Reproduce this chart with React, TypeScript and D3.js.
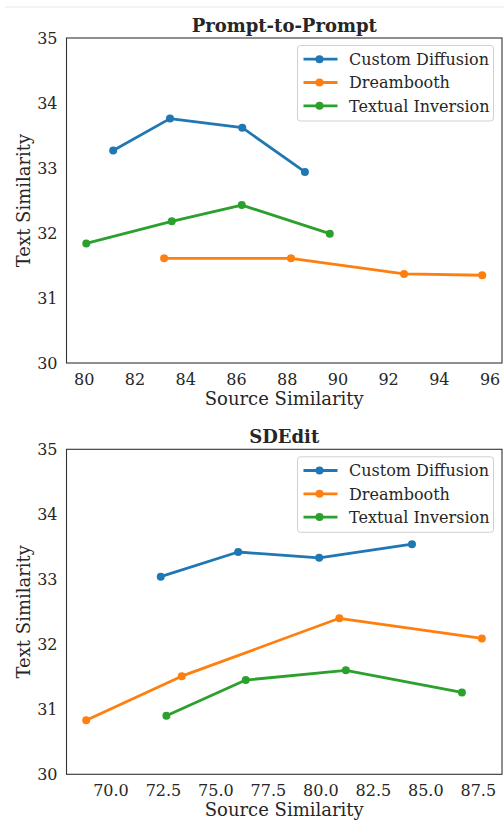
import React from "react";
import * as d3 from "d3";

const seriesNames = ["Custom Diffusion", "Dreambooth", "Textual Inversion"];
const colors = ["#1f77b4", "#ff7f0e", "#2ca02c"];

// Prompt-to-Prompt
const p2pCustomX = [81.14, 83.38, 86.23, 88.7];
const p2pCustomY = [33.27, 33.76, 33.62, 32.94];
const p2pDreamX = [83.15, 88.15, 92.61, 95.69];
const p2pDreamY = [31.61, 31.61, 31.37, 31.35];
const p2pTextualX = [80.08, 83.45, 86.21, 89.68];
const p2pTextualY = [31.84, 32.18, 32.43, 31.99];
const p2pXTicks = [80, 82, 84, 86, 88, 90, 92, 94, 96];

// SDEdit
const sdCustomX = [72.37, 76.06, 79.92, 84.34];
const sdCustomY = [33.04, 33.42, 33.33, 33.54];
const sdDreamX = [68.82, 73.37, 80.88, 87.67];
const sdDreamY = [30.83, 31.51, 32.4, 32.09];
const sdTextualX = [72.64, 76.42, 81.19, 86.72];
const sdTextualY = [30.9, 31.45, 31.6, 31.26];
const sdXTicks = [70, 72.5, 75, 77.5, 80, 82.5, 85, 87.5];

const yTicks = [30, 31, 32, 33, 34, 35];

const FONT = "'DejaVu Serif', serif";
const TEXT = "#262626";

type PanelProps = {
  title: string;
  top: number;
  xDomain: [number, number];
  xTicks: number[];
  xFmt: (v: number) => string;
  series: { x: number[]; y: number[] }[];
};

function Panel({ title, top, xDomain, xTicks, xFmt, series }: PanelProps) {
  const left = 66.5;
  const right = 502;
  const h = 325;
  const x = d3.scaleLinear().domain(xDomain).range([left, right]);
  const y = d3.scaleLinear().domain([30, 35]).range([top + h, top]);
  const line = d3
    .line<[number, number]>()
    .x((d) => x(d[0]))
    .y((d) => y(d[1]));
  const lx = 297.5;
  const ly = top + 7.5;
  return (
    <g>
      <text
        x={(left + right) / 2}
        y={top - 6.5}
        textAnchor="middle"
        fontFamily={FONT}
        fontWeight="bold"
        fontSize={18}
        fill={TEXT}
      >
        {title}
      </text>
      {series.map((s, i) => {
        const pts = s.x.map((v, j) => [v, s.y[j]] as [number, number]);
        return (
          <g key={i}>
            <path d={line(pts) || ""} fill="none" stroke={colors[i]} strokeWidth={2.8} strokeLinejoin="round" />
            {pts.map((p, j) => (
              <circle key={j} cx={x(p[0])} cy={y(p[1])} r={4} fill={colors[i]} />
            ))}
          </g>
        );
      })}
      <rect x={left} y={top} width={right - left} height={h} fill="none" stroke="#333" strokeWidth={1.1} />
      {yTicks.map((t) => (
        <text key={t} x={left - 9} y={y(t)} dy="0.36em" textAnchor="end" fontFamily={FONT} fontSize={16} fill={TEXT}>
          {t}
        </text>
      ))}
      {xTicks.map((t) => (
        <text key={t} x={x(t)} y={top + h + 22} textAnchor="middle" fontFamily={FONT} fontSize={16} fill={TEXT}>
          {xFmt(t)}
        </text>
      ))}
      <text
        x={(left + right) / 2}
        y={top + h + 42}
        textAnchor="middle"
        fontFamily={FONT}
        fontSize={18}
        fill={TEXT}
      >
        Source Similarity
      </text>
      <text
        transform={`translate(${30},${top + h / 2}) rotate(-90)`}
        textAnchor="middle"
        fontFamily={FONT}
        fontSize={18}
        fill={TEXT}
      >
        Text Similarity
      </text>
      <rect x={lx} y={ly} width={196} height={75.5} rx={3} fill="white" fillOpacity={0.8} stroke="#d0d0d0" strokeWidth={1} />
      {seriesNames.map((n, i) => {
        const yy = ly + 13.7 + i * 23.3;
        return (
          <g key={n}>
            <line x1={lx + 6} x2={lx + 40} y1={yy} y2={yy} stroke={colors[i]} strokeWidth={2.8} />
            <circle cx={lx + 22} cy={yy} r={4} fill={colors[i]} />
            <text x={lx + 51.5} y={yy} dy="0.36em" fontFamily={FONT} fontSize={16} fill={TEXT}>
              {n}
            </text>
          </g>
        );
      })}
    </g>
  );
}

export default function App() {
  return (
    <div style={{ position: "absolute", left: 0, top: 0 }}>
      <svg width={504} height={827} style={{ display: "block", background: "white" }}>
        <line x1={5} x2={504} y1={7} y2={7} stroke="#e6e6e6" strokeWidth={1} />
        <Panel
          title="Prompt-to-Prompt"
          top={38}
          xDomain={[79.3, 96.47]}
          xTicks={p2pXTicks}
          xFmt={(v) => String(v)}
          series={[
            { x: p2pCustomX, y: p2pCustomY },
            { x: p2pDreamX, y: p2pDreamY },
            { x: p2pTextualX, y: p2pTextualY },
          ]}
        />
        <Panel
          title="SDEdit"
          top={449.3}
          xDomain={[67.88, 88.63]}
          xTicks={sdXTicks}
          xFmt={(v) => v.toFixed(1)}
          series={[
            { x: sdCustomX, y: sdCustomY },
            { x: sdDreamX, y: sdDreamY },
            { x: sdTextualX, y: sdTextualY },
          ]}
        />
      </svg>
    </div>
  );
}
